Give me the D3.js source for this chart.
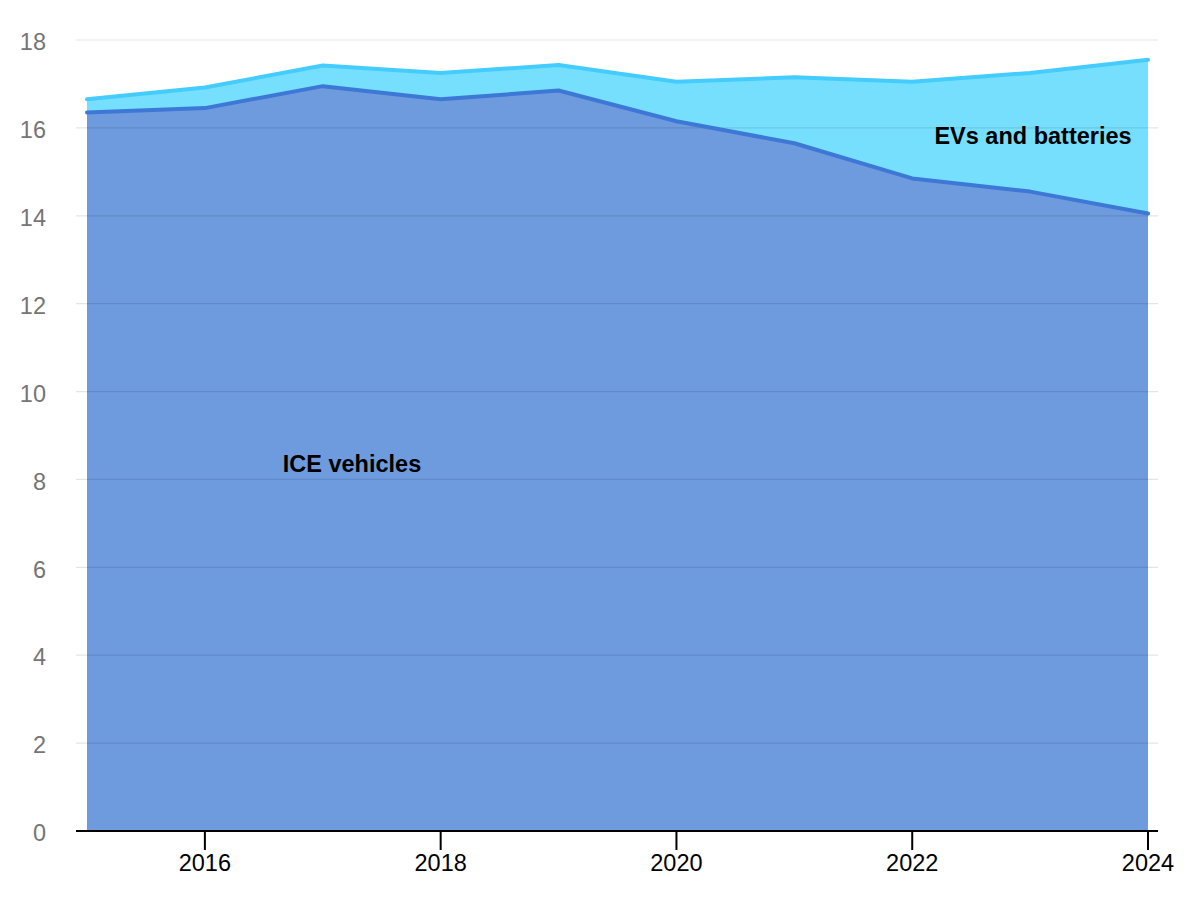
<!DOCTYPE html>
<html lang="en">
<head>
  <meta charset="UTF-8" />
  <title>ICE vehicles vs EVs and batteries</title>
  <style>
    body {
      margin: 0;
      background: #ffffff;
      font-family: "Liberation Sans", Arial, sans-serif;
    }
    svg { display: block; }
  </style>
</head>
<body>
  <svg id="chart" width="1200" height="900"></svg>

  <script src="https://cdn.jsdelivr.net/npm/d3@7"></script>
  <script>
    // data
    const years = [2015, 2016, 2017, 2018, 2019, 2020, 2021, 2022, 2023, 2024];
    const iceVehicles = [16.35, 16.45, 16.95, 16.65, 16.85, 16.15, 15.65, 14.85, 14.55, 14.05];
    const evsAndBatteries = [0.3, 0.47, 0.47, 0.6, 0.58, 0.9, 1.5, 2.2, 2.7, 3.5];
    const yTicks = [0, 2, 4, 6, 8, 10, 12, 14, 16, 18];
    const xTicks = [2016, 2018, 2020, 2022, 2024];

    const svg = d3.select("#chart");
    const plotLeft = 76, plotRight = 1158, plotTop = 40, plotBottom = 831;

    const x = d3.scaleLinear().domain([2015, 2024]).range([87, 1148]);
    const y = d3.scaleLinear().domain([0, 18]).range([plotBottom, plotTop]);

    const rows = years.map((yr, i) => ({
      year: yr,
      ice: iceVehicles[i],
      total: iceVehicles[i] + evsAndBatteries[i]
    }));

    // EV band (between ICE and total)
    svg.append("path")
      .datum(rows)
      .attr("fill", "#76dffe")
      .attr("d", d3.area().x(d => x(d.year)).y0(d => y(d.ice)).y1(d => y(d.total)));

    // ICE area
    svg.append("path")
      .datum(rows)
      .attr("fill", "#6d9bde")
      .attr("d", d3.area().x(d => x(d.year)).y0(y(0)).y1(d => y(d.ice)));

    // gridlines (faint, over the areas)
    svg.append("g")
      .selectAll("line")
      .data(yTicks.filter(t => t > 0))
      .join("line")
      .attr("x1", plotLeft).attr("x2", plotRight)
      .attr("y1", d => y(d)).attr("y2", d => y(d))
      .attr("stroke", "#000")
      .attr("stroke-opacity", 0.1)
      .attr("stroke-width", 1.2);

    // top lines
    svg.append("path")
      .datum(rows)
      .attr("fill", "none")
      .attr("stroke", "#44ccff")
      .attr("stroke-width", 4)
      .attr("stroke-linejoin", "round")
      .attr("stroke-linecap", "round")
      .attr("d", d3.line().x(d => x(d.year)).y(d => y(d.total)));

    svg.append("path")
      .datum(rows)
      .attr("fill", "none")
      .attr("stroke", "#3d78d6")
      .attr("stroke-width", 4)
      .attr("stroke-linejoin", "round")
      .attr("stroke-linecap", "round")
      .attr("d", d3.line().x(d => x(d.year)).y(d => y(d.ice)));

    // y labels
    svg.append("g")
      .selectAll("text")
      .data(yTicks)
      .join("text")
      .attr("x", 46)
      .attr("y", d => y(d) + 2)
      .attr("dy", "0.35em")
      .attr("text-anchor", "end")
      .attr("font-size", 23.5)
      .attr("fill", "#757575")
      .text(d => d);

    // x axis
    svg.append("line")
      .attr("x1", plotLeft).attr("x2", plotRight)
      .attr("y1", plotBottom).attr("y2", plotBottom)
      .attr("stroke", "#000").attr("stroke-width", 2);

    const xg = svg.append("g");
    xg.selectAll("line")
      .data(xTicks)
      .join("line")
      .attr("x1", d => x(d)).attr("x2", d => x(d))
      .attr("y1", plotBottom).attr("y2", plotBottom + 19)
      .attr("stroke", "#000").attr("stroke-width", 2);
    xg.selectAll("text")
      .data(xTicks)
      .join("text")
      .attr("x", d => x(d))
      .attr("y", plotBottom + 40)
      .attr("text-anchor", "middle")
      .attr("font-size", 23.5)
      .attr("fill", "#000")
      .text(d => d);

    // series labels
    svg.append("text")
      .attr("x", 352).attr("y", 472)
      .attr("text-anchor", "middle")
      .attr("font-size", 23.5).attr("font-weight", "bold")
      .text("ICE vehicles");

    svg.append("text")
      .attr("x", 1033).attr("y", 144)
      .attr("text-anchor", "middle")
      .attr("font-size", 23.5).attr("font-weight", "bold")
      .text("EVs and batteries");
  </script>
</body>
</html>
